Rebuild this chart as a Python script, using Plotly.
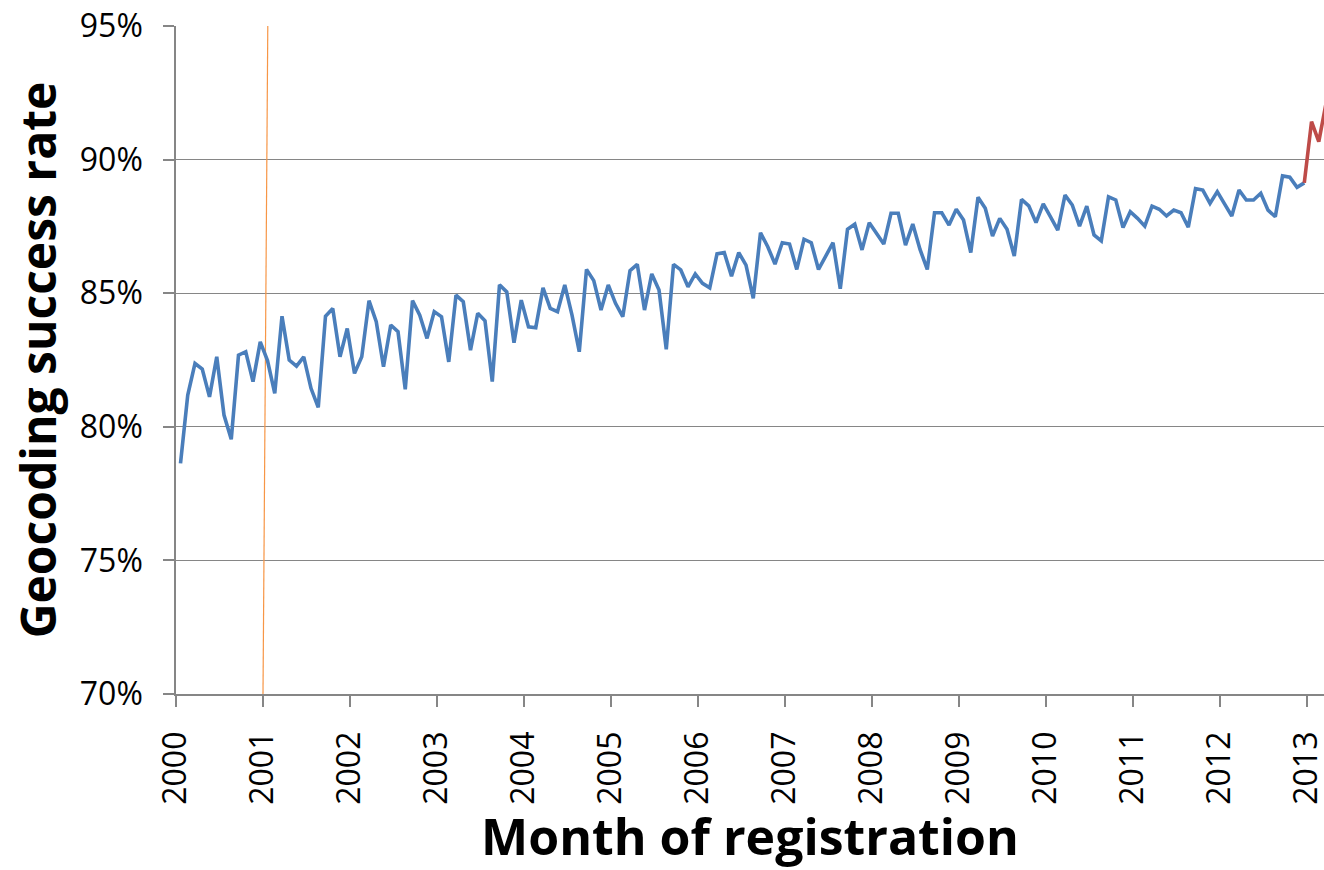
import plotly.graph_objects as go

# Monthly geocoding success rate (%), Jan 2000 .. Dec 2012 (blue series)
rate_blue = [
    78.63, 81.19, 82.37, 82.16, 81.12, 82.62, 80.44, 79.53, 82.68, 82.81, 81.69, 83.18,  # 2000
    82.48, 81.25, 84.14, 82.50, 82.27, 82.62, 81.44, 80.73, 84.14, 84.43, 82.62, 83.68,  # 2001
    82.00, 82.62, 84.72, 83.93, 82.25, 83.81, 83.56, 81.40, 84.72, 84.18, 83.31, 84.31,  # 2002
    84.12, 82.43, 84.93, 84.68, 82.87, 84.25, 83.97, 81.69, 85.31, 85.05, 83.15, 84.74,  # 2003
    83.74, 83.71, 85.20, 84.43, 84.31, 85.31, 84.18, 82.81, 85.89, 85.47, 84.37, 85.31,  # 2004
    84.62, 84.12, 85.84, 86.08, 84.37, 85.72, 85.12, 82.90, 86.08, 85.87, 85.24, 85.72,  # 2005
    85.37, 85.20, 86.47, 86.52, 85.64, 86.52, 86.05, 84.81, 87.26, 86.74, 86.09, 86.89,  # 2006
    86.84, 85.89, 87.02, 86.89, 85.89, 86.36, 86.89, 85.17, 87.39, 87.58, 86.62, 87.64,  # 2007
    87.24, 86.84, 87.99, 87.99, 86.80, 87.59, 86.64, 85.89, 88.01, 88.01, 87.55, 88.14,  # 2008
    87.74, 86.52, 88.59, 88.18, 87.14, 87.80, 87.39, 86.39, 88.51, 88.27, 87.64, 88.34,  # 2009
    87.86, 87.36, 88.67, 88.30, 87.51, 88.26, 87.18, 86.96, 88.61, 88.49, 87.46, 88.05,  # 2010
    87.80, 87.51, 88.26, 88.14, 87.89, 88.11, 88.01, 87.47, 88.91, 88.86, 88.36, 88.80,  # 2011
    88.34, 87.89, 88.86, 88.49, 88.49, 88.74, 88.11, 87.86, 89.39, 89.34, 88.96, 89.13,  # 2012
]
# Red series: Dec 2012 .. Mar 2013
rate_red = [89.13, 91.42, 90.67, 92.10]

month_offset = 0.62  # position of each monthly point within its month
x_blue = [2000 + (k + month_offset) / 12 for k in range(len(rate_blue))]
red_start = len(rate_blue) - 1
x_red = [2000 + (red_start + k + month_offset) / 12 for k in range(len(rate_red))]

# Orange marker line near Jan 2001
orange_x = [2001.0, 2001.055]
orange_y = [70, 95]

year_ticks = list(range(2000, 2014))
y_ticks = [70, 75, 80, 85, 90, 95]

fig = go.Figure()
fig.add_trace(go.Scatter(x=orange_x, y=orange_y, mode="lines",
                         line=dict(color="#F79646", width=1.2), showlegend=False))
fig.add_trace(go.Scatter(x=x_blue, y=rate_blue, mode="lines",
                         line=dict(color="#4A7EBB", width=3.6), showlegend=False))
fig.add_trace(go.Scatter(x=x_red, y=rate_red, mode="lines",
                         line=dict(color="#BE4B48", width=3.6), showlegend=False))

fig.update_layout(
    width=1324, height=870,
    margin=dict(l=176, r=0, t=26, b=176, autoexpand=False),
    plot_bgcolor="white", paper_bgcolor="white",
    font=dict(family="Open Sans", color="black"),
    showlegend=False,
)
fig.update_xaxes(
    range=[2000, 2013.195], automargin=False,
    tickvals=year_ticks, ticktext=[str(y) for y in year_ticks],
    tickangle=-90, tickfont=dict(size=32, family="Open Sans"),
    ticks="outside", ticklen=11, tickcolor="#868686", tickwidth=1.5,
    ticklabelstandoff=12, ticklabeloverflow="allow",
    showline=True, linecolor="#868686", linewidth=1.5,
    showgrid=False, zeroline=False,
    title=dict(text="<b>Month of registration</b>", font=dict(size=50, family="Open Sans"),
               standoff=14),
)
fig.update_yaxes(
    range=[70, 95], automargin=False,
    tickvals=y_ticks, ticktext=[f"{v}%" for v in y_ticks],
    tickfont=dict(size=32, family="Open Sans"),
    ticks="outside", ticklen=11, tickcolor="#868686", tickwidth=1.5,
    ticklabelstandoff=14,
    showline=True, linecolor="#868686", linewidth=1.5,
    showgrid=True, gridcolor="#868686", gridwidth=1.2,
    zeroline=False,
    title=dict(text="<b>Geocoding success rate</b>", font=dict(size=48, family="Open Sans"),
               standoff=8),
)

fig.write_html(
    "out.html",
    config={"displayModeBar": False},
    post_script="document.body.style.margin='0';document.body.style.overflow='hidden';",
)
